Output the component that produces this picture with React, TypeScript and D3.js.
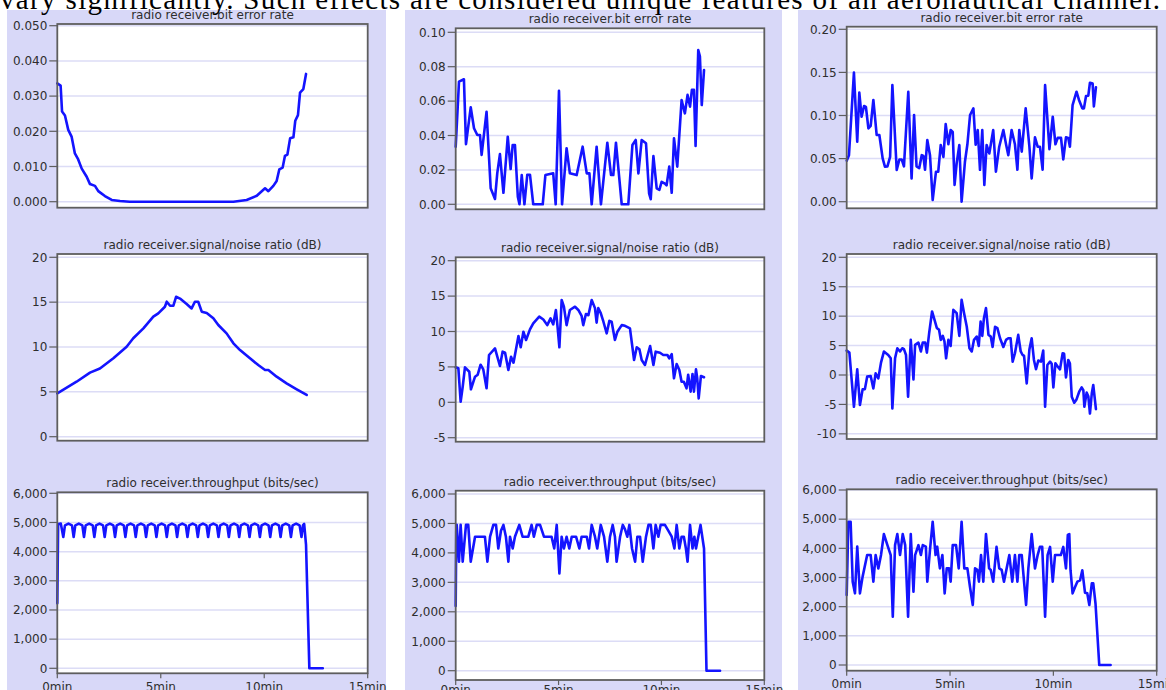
import React from "react";
import * as d3 from "d3";

const W = 1166;
const H = 690;

const headline =
  "vary significantly. Such effects are considered unique features of an aeronautical channel.";

const titleBer = "radio receiver.bit error rate";
const titleSnr = "radio receiver.signal/noise ratio (dB)";
const titleTp = "radio receiver.throughput (bits/sec)";

const timeTicks = [0, 5, 10, 15];
const berTicksA = [0, 0.01, 0.02, 0.03, 0.04, 0.05];
const berTicksB = [0, 0.02, 0.04, 0.06, 0.08, 0.1];
const berTicksC = [0, 0.05, 0.1, 0.15, 0.2];
const snrTicksA = [0, 5, 10, 15, 20];
const snrTicksB = [-5, 0, 5, 10, 15, 20];
const snrTicksC = [-10, -5, 0, 5, 10, 15, 20];
const tpTicks = [0, 1000, 2000, 3000, 4000, 5000, 6000];

// [minutes, value]
const berA: [number, number][] = [
  [0, 0.0336], [0.16, 0.033], [0.23, 0.0256], [0.37, 0.0245], [0.53, 0.0204], [0.69, 0.0185],
  [0.85, 0.0137], [1.01, 0.012], [1.18, 0.0094], [1.42, 0.0071], [1.58, 0.005], [1.82, 0.0045],
  [1.98, 0.003], [2.3, 0.0016], [2.63, 0.0005], [3.03, 0.0002], [3.5, 0], [8.51, 0],
  [9.15, 0.0005], [9.64, 0.0017], [10.04, 0.0038], [10.2, 0.003], [10.44, 0.0045], [10.6, 0.0059],
  [10.73, 0.0092], [10.89, 0.0097], [11.0, 0.013], [11.12, 0.0134], [11.25, 0.018], [11.41, 0.0183],
  [11.5, 0.023], [11.63, 0.0246], [11.73, 0.031], [11.89, 0.032], [12.02, 0.0363],
];

const snrA: [number, number][] = [
  [0, 4.84], [0.93, 6.13], [1.58, 7.14], [2.06, 7.6], [2.71, 8.74], [3.35, 10.03], [3.67, 10.97],
  [4.16, 12.08], [4.64, 13.38], [4.88, 13.75], [5.2, 14.49], [5.29, 15.05], [5.45, 14.6],
  [5.61, 14.6], [5.74, 15.6], [5.93, 15.4], [6.25, 14.8], [6.49, 14.3], [6.65, 15.05],
  [6.81, 15.05], [6.98, 13.94], [7.22, 13.8], [7.54, 13.2], [7.78, 12.45], [8.18, 11.52],
  [8.51, 10.41], [8.83, 9.66], [9.31, 8.74], [9.71, 7.99], [10.04, 7.44], [10.2, 7.44],
  [10.6, 6.69], [11.08, 5.95], [11.57, 5.28], [12.05, 4.65],
];

const tpA: [number, number][] = [
  [0, 2230], [0.04, 4950], [0.17, 4960],
  [0.29, 4500], [0.37, 4900], [0.54, 4960], [0.71, 4900],
  [0.79, 4500], [0.87, 4900], [1.04, 4960], [1.21, 4900],
  [1.29, 4500], [1.37, 4900], [1.54, 4960], [1.71, 4900],
  [1.79, 4500], [1.87, 4900], [2.04, 4960], [2.21, 4900],
  [2.29, 4500], [2.37, 4900], [2.54, 4960], [2.71, 4900],
  [2.79, 4500], [2.87, 4900], [3.04, 4960], [3.21, 4900],
  [3.29, 4500], [3.37, 4900], [3.54, 4960], [3.71, 4900],
  [3.79, 4500], [3.87, 4900], [4.04, 4960], [4.21, 4900],
  [4.29, 4500], [4.37, 4900], [4.54, 4960], [4.71, 4900],
  [4.79, 4500], [4.87, 4900], [5.04, 4960], [5.21, 4900],
  [5.29, 4500], [5.37, 4900], [5.54, 4960], [5.71, 4900],
  [5.79, 4500], [5.87, 4900], [6.04, 4960], [6.21, 4900],
  [6.29, 4500], [6.37, 4900], [6.54, 4960], [6.71, 4900],
  [6.79, 4500], [6.87, 4900], [7.04, 4960], [7.21, 4900],
  [7.29, 4500], [7.37, 4900], [7.54, 4960], [7.71, 4900],
  [7.79, 4500], [7.87, 4900], [8.04, 4960], [8.21, 4900],
  [8.29, 4500], [8.37, 4900], [8.54, 4960], [8.71, 4900],
  [8.79, 4500], [8.87, 4900], [9.04, 4960], [9.21, 4900],
  [9.29, 4500], [9.37, 4900], [9.54, 4960], [9.71, 4900],
  [9.79, 4500], [9.87, 4900], [10.04, 4960], [10.21, 4900],
  [10.29, 4500], [10.37, 4900], [10.54, 4960], [10.71, 4900],
  [10.79, 4500], [10.87, 4900], [11.04, 4960], [11.21, 4900],
  [11.29, 4500], [11.37, 4900], [11.54, 4960], [11.71, 4900],
  [11.8, 4500], [11.87, 4900], [11.93, 4950], [12.02, 4230],
  [12.18, 0], [12.83, 0],
];

const berB: [number, number][] = [
  [0, 0.0335], [0.16, 0.0713], [0.4, 0.0727], [0.5, 0.035], [0.73, 0.0564], [0.89, 0.0442],
  [1.05, 0.0403], [1.18, 0.0403], [1.26, 0.0287], [1.5, 0.0538], [1.7, 0.0093], [1.91, 0.0031],
  [2.02, 0.018], [2.15, 0.0292], [2.32, 0.0067], [2.53, 0.0393], [2.67, 0.0205], [2.77, 0.0345],
  [2.88, 0.0345], [3.02, 0.0044], [3.1, 0], [3.21, 0.017], [3.34, 0], [3.48, 0.0172],
  [3.61, 0.0172], [3.77, 0], [4.23, 0], [4.36, 0.017], [4.74, 0.018], [4.86, 0], [5.02, 0.066],
  [5.17, 0], [5.39, 0.0326], [5.55, 0.018], [5.88, 0.017], [6.17, 0.0335], [6.37, 0.018],
  [6.5, 0.018], [6.61, 0], [6.85, 0.0335], [7.06, 0], [7.37, 0.0358], [7.55, 0.017], [7.66, 0.017],
  [7.79, 0.0358], [8.07, 0], [8.39, 0], [8.59, 0.0345], [8.75, 0.0374], [8.88, 0.018],
  [9.04, 0.0374], [9.25, 0.0355], [9.4, 0.0064], [9.48, 0.003], [9.61, 0.028], [9.77, 0.0093],
  [9.9, 0.0084], [10.01, 0.0131], [10.17, 0.012], [10.25, 0.011], [10.38, 0.0219], [10.5, 0.0067],
  [10.61, 0.0384], [10.77, 0.0219], [10.98, 0.0606], [11.14, 0.0529], [11.27, 0.0636],
  [11.39, 0.0568], [11.48, 0.0665], [11.58, 0.0665], [11.66, 0.0339], [11.79, 0.0897],
  [11.87, 0.086], [11.96, 0.0577], [12.07, 0.078],
];

const snrB: [number, number][] = [
  [0, 4.94], [0.13, 4.8], [0.24, 0.08], [0.34, 2.2], [0.45, 4.94], [0.66, 4.32], [0.74, 1.84],
  [0.94, 3.62], [1.07, 3.9], [1.21, 5.31], [1.34, 4.65], [1.5, 1.98], [1.62, 6.68], [1.91, 7.62],
  [2.15, 5.13], [2.28, 7.15], [2.4, 7.0], [2.56, 4.56], [2.69, 6.44], [2.81, 5.6], [3.05, 9.36],
  [3.16, 7.77], [3.29, 9.97], [3.42, 8.8], [3.61, 10.3], [3.77, 11.16], [4.06, 12.1], [4.26, 11.7],
  [4.45, 10.9], [4.61, 11.86], [4.74, 11.0], [4.87, 13.04], [4.95, 10.68], [5.04, 7.77],
  [5.15, 14.45], [5.26, 13.5], [5.39, 10.9], [5.55, 13.04], [5.8, 13.5], [5.96, 13.04],
  [6.12, 12.19], [6.2, 10.9], [6.33, 12.47], [6.45, 12.3], [6.61, 14.45], [6.77, 13.3],
  [6.85, 11.24], [6.93, 13.3], [7.05, 12.6], [7.18, 11.38], [7.34, 9.74], [7.47, 11.5],
  [7.58, 11.38], [7.74, 8.8], [7.86, 9.97], [8.07, 10.9], [8.23, 10.8], [8.47, 10.45],
  [8.67, 5.97], [8.8, 7.77], [8.93, 7.5], [9.04, 5.97], [9.2, 5.27], [9.45, 7.95], [9.61, 5.27],
  [9.72, 7.15], [9.93, 7.0], [10.09, 6.68], [10.29, 6.68], [10.38, 6.21], [10.5, 6.8],
  [10.61, 3.39], [10.74, 5.41], [10.87, 4.56], [10.98, 2.91], [11.09, 2.91], [11.22, 1.98],
  [11.3, 3.9], [11.42, 1.5], [11.51, 4.0], [11.58, 1.5], [11.68, 4.65], [11.74, 3.39],
  [11.81, 0.56], [11.92, 3.72], [12.07, 3.53],
];

const tpB: [number, number][] = [
  [0, 2200], [0.03, 4950], [0.05, 4950], [0.16, 3700], [0.24, 4950], [0.34, 3700], [0.5, 4950],
  [0.61, 4950], [0.73, 3700], [0.94, 4550], [1.42, 4550], [1.54, 3700], [1.67, 4550],
  [1.83, 4950], [1.96, 4950], [2.07, 4150], [2.2, 4750], [2.32, 4950], [2.44, 4550],
  [2.56, 3700], [2.64, 4550], [2.77, 4150], [2.88, 4550], [3.09, 4950], [3.25, 4550],
  [3.53, 4550], [3.69, 4950], [3.8, 4550], [3.94, 4950], [4.1, 4950], [4.29, 4550], [4.66, 4550],
  [4.79, 4150], [4.91, 4950], [5.04, 3300], [5.15, 4550], [5.26, 4150], [5.39, 4550],
  [5.52, 4150], [5.64, 4550], [5.85, 4550], [6.01, 4150], [6.12, 4550], [6.37, 4550],
  [6.48, 4150], [6.61, 4950], [6.77, 4550], [6.88, 4150], [7.05, 4950], [7.21, 4550],
  [7.37, 3700], [7.5, 4550], [7.63, 4950], [7.74, 4550], [7.82, 3700], [7.99, 4550],
  [8.12, 4950], [8.23, 4800], [8.34, 4550], [8.44, 4950], [8.57, 4150], [8.72, 3700],
  [8.83, 4550], [8.96, 4550], [9.09, 3700], [9.25, 4550], [9.37, 4950], [9.48, 4950],
  [9.61, 4150], [9.72, 4950], [9.85, 4550], [9.96, 4950], [10.17, 4950], [10.34, 4750],
  [10.5, 4550], [10.63, 4150], [10.74, 4950], [10.87, 4150], [10.98, 4550], [11.09, 4550],
  [11.19, 4150], [11.27, 3700], [11.39, 4950], [11.51, 4150], [11.6, 4550], [11.68, 4150],
  [11.79, 4550], [11.9, 4950], [12.07, 4150], [12.19, 0], [12.85, 0],
];

const berC: [number, number][] = [
  [0, 0.0476], [0.11, 0.054], [0.35, 0.1497], [0.51, 0.0696], [0.61, 0.1265], [0.72, 0.0986],
  [0.84, 0.111], [0.93, 0.11], [1.05, 0.085], [1.16, 0.088], [1.29, 0.118], [1.45, 0.0774],
  [1.58, 0.0774], [1.74, 0.0503], [1.85, 0.0406], [1.97, 0.041], [2.1, 0.052], [2.21, 0.1354],
  [2.42, 0.0368], [2.55, 0.049], [2.66, 0.049], [2.77, 0.041], [2.98, 0.1276], [3.14, 0.027],
  [3.26, 0.1006], [3.38, 0.041], [3.51, 0.039], [3.63, 0.054], [3.71, 0.053], [3.79, 0.037],
  [3.9, 0.0716], [4.03, 0.054], [4.16, 0.002], [4.32, 0.0348], [4.43, 0.0348], [4.55, 0.0658],
  [4.68, 0.052], [4.79, 0.09], [4.92, 0.0666], [5.03, 0.0832], [5.13, 0.081], [5.22, 0.0194],
  [5.32, 0.0445], [5.45, 0.0658], [5.56, 0], [5.72, 0.046], [5.84, 0.0666], [5.97, 0.1006],
  [6.13, 0.1083], [6.24, 0.0661], [6.34, 0.0832], [6.45, 0.037], [6.56, 0.0832], [6.66, 0.0194],
  [6.77, 0.0658], [6.9, 0.056], [7.09, 0.0832], [7.22, 0.0348], [7.38, 0.0638], [7.58, 0.0832],
  [7.71, 0.0666], [7.82, 0.054], [7.98, 0.0832], [8.14, 0.0666], [8.26, 0.037], [8.35, 0.0832],
  [8.47, 0.058], [8.66, 0.1083], [8.84, 0.0638], [8.95, 0.027], [9.11, 0.0747], [9.24, 0.0638],
  [9.35, 0.0638], [9.48, 0.037], [9.6, 0.1354], [9.81, 0.061], [9.97, 0.0986], [10.1, 0.0666],
  [10.21, 0.074], [10.37, 0.074], [10.48, 0.049], [10.61, 0.0747], [10.72, 0.074],
  [10.8, 0.0638], [10.93, 0.112], [11.12, 0.1276], [11.24, 0.118], [11.4, 0.1083],
  [11.48, 0.1083], [11.58, 0.1226], [11.69, 0.123], [11.77, 0.138], [11.9, 0.137],
  [11.96, 0.1106], [12.06, 0.1327],
];

const snrC: [number, number][] = [
  [0, 4.14], [0.13, 3.8], [0.35, -5.4], [0.51, 0.97], [0.64, -5.1], [0.77, -2.44], [0.88, -2.4],
  [0.99, -0.28], [1.16, -0.17], [1.29, -2.27], [1.4, 0.28], [1.53, -0.57], [1.66, 2.1],
  [1.8, 3.98], [2.01, 3.4], [2.13, 2.84], [2.21, -5.7], [2.34, 2.84], [2.45, 4.55], [2.58, 4.0],
  [2.69, 4.55], [2.77, 4.4], [2.87, 3.4], [2.97, -3.7], [3.1, 5.97], [3.23, -0.74], [3.31, 5.11],
  [3.47, 5.5], [3.59, 4.0], [3.68, 5.5], [3.8, 5.5], [3.88, 3.8], [3.99, 7.1], [4.13, 10.8],
  [4.25, 9.37], [4.36, 8.0], [4.47, 7.67], [4.55, 5.97], [4.65, 6.65], [4.73, 5.7], [4.81, 2.84],
  [4.92, 5.97], [5.03, 4.94], [5.16, 11.08], [5.32, 10.5], [5.45, 6.65], [5.56, 12.78],
  [5.68, 10.5], [5.81, 8.2], [5.94, 4.55], [6.05, 4.0], [6.16, 5.97], [6.29, 6.54], [6.39, 4.94],
  [6.48, 9.08], [6.56, 6.65], [6.64, 9.66], [6.74, 11.37], [6.86, 6.82], [6.97, 6.54],
  [7.06, 4.77], [7.18, 8.2], [7.29, 7.96], [7.42, 6.25], [7.58, 4.77], [7.71, 5.97], [7.82, 6.25],
  [7.93, 6.25], [8.03, 2.27], [8.14, 3.7], [8.3, 6.82], [8.42, 4.0], [8.51, 3.4], [8.58, 3.3],
  [8.71, -1.42], [8.84, 4.33], [8.95, 6.25], [9.06, 2.56], [9.16, 0.97], [9.27, 2.45],
  [9.4, 2.27], [9.51, 4.14], [9.6, -5.4], [9.71, 1.7], [9.84, 2.27], [9.92, 1.9], [10.0, -2.1],
  [10.1, 2.0], [10.21, 1.42], [10.32, 0.97], [10.45, 3.7], [10.52, 3.6], [10.61, -0.4],
  [10.72, 2.56], [10.8, 2.0], [10.89, -3.7], [11.01, -4.72], [11.12, -4.15], [11.25, -2.84],
  [11.37, -2.1], [11.45, -2.56], [11.5, -5.4], [11.61, -3.0], [11.69, -3.6], [11.77, -6.55],
  [11.86, -3.1], [11.93, -1.7], [12.06, -5.8],
];

const tpC: [number, number][] = [
  [0, 2400], [0.08, 4913], [0.19, 4913], [0.29, 2857], [0.4, 2457], [0.51, 4057], [0.64, 2457],
  [0.77, 3030], [0.99, 3770], [1.16, 3770], [1.29, 2857], [1.4, 3770], [1.53, 3313], [1.66, 3770],
  [1.8, 4490], [1.97, 4110], [2.13, 3770], [2.23, 1657], [2.34, 4110], [2.45, 4490], [2.58, 3770],
  [2.71, 4490], [2.83, 4110], [2.97, 1657], [3.1, 4490], [3.23, 2514], [3.31, 3770], [3.47, 4110],
  [3.59, 3770], [3.68, 4110], [3.83, 4057], [3.9, 2857], [4.03, 3950], [4.16, 4913], [4.3, 3770],
  [4.38, 4057], [4.51, 3313], [4.63, 3770], [4.74, 2457], [4.84, 3313], [4.95, 3313],
  [5.03, 2857], [5.13, 4110], [5.29, 4110], [5.42, 3313], [5.56, 4913], [5.69, 3313],
  [5.84, 3313], [5.97, 2657], [6.1, 2057], [6.21, 3313], [6.32, 3260], [6.4, 2857], [6.5, 3770],
  [6.61, 2857], [6.74, 4490], [6.89, 3313], [6.97, 3260], [7.09, 2857], [7.25, 4050],
  [7.38, 3313], [7.5, 3260], [7.61, 2857], [7.74, 3313], [7.87, 3770], [8.01, 2857], [8.14, 3770],
  [8.26, 2857], [8.35, 3770], [8.47, 3770], [8.68, 2057], [8.79, 3313], [8.95, 4490],
  [9.11, 3313], [9.24, 3770], [9.35, 4050], [9.46, 4050], [9.6, 1657], [9.72, 3770], [9.84, 4050],
  [9.97, 2857], [10.08, 3770], [10.24, 3770], [10.36, 3770], [10.48, 4050], [10.61, 3313],
  [10.7, 4460], [10.77, 4490], [10.83, 3250], [10.93, 2457], [11.04, 2657], [11.16, 2857],
  [11.29, 2900], [11.4, 3250], [11.53, 2480], [11.64, 2457], [11.74, 2057], [11.86, 2800],
  [11.93, 2800], [12.04, 2100], [12.22, 0], [12.77, 0],
];

type Chart = {
  title: string;
  data: [number, number][];
  ticks: number[];
  fmt: (v: number) => string;
  box: [number, number, number, number]; // left, top, right, bottom
  ref: [number, number, number, number]; // value0, y0, value1, y1
  xLabelY?: number;
};

const hyphen = (f: (v: number) => string) => (v: number) => f(v).replace("\u2212", "-");
const f3 = hyphen(d3.format(".3f"));
const f2 = hyphen(d3.format(".2f"));
const fi = hyphen(d3.format("d"));
const fc = hyphen(d3.format(",d"));

const columns = [
  { x0: 7, x1: 386 },
  { x0: 405, x1: 782 },
  { x0: 798, x1: 1166 },
];

const charts: Chart[] = [
  { title: titleBer, data: berA, ticks: berTicksA, fmt: f3, box: [57.3, 24, 367.7, 207.7], ref: [0, 201.7, 0.05, 25.7] },
  { title: titleSnr, data: snrA, ticks: snrTicksA, fmt: fi, box: [57.3, 254, 367.7, 440.7], ref: [0, 436.7, 20, 257.3] },
  { title: titleTp, data: tpA, ticks: tpTicks, fmt: fc, box: [57.3, 492.3, 367.7, 673.3], ref: [0, 668.3, 6000, 493.3], xLabelY: 691 },
  { title: titleBer, data: berB, ticks: berTicksB, fmt: f2, box: [455.7, 28.3, 764.3, 209.3], ref: [0, 204.3, 0.1, 32.3] },
  { title: titleSnr, data: snrB, ticks: snrTicksB, fmt: fi, box: [455.7, 257.3, 764.3, 441.7], ref: [0, 402.3, 20, 260.7] },
  { title: titleTp, data: tpB, ticks: tpTicks, fmt: fc, box: [455.7, 490.7, 764.3, 680], ref: [0, 670.7, 6000, 494], xLabelY: 694 },
  { title: titleBer, data: berC, ticks: berTicksC, fmt: f2, box: [846.7, 26.7, 1156.7, 208.3], ref: [0, 201.7, 0.2, 29.3] },
  { title: titleSnr, data: snrC, ticks: snrTicksC, fmt: fi, box: [846.7, 254, 1156.7, 439], ref: [0, 375, 20, 257.3] },
  { title: titleTp, data: tpC, ticks: tpTicks, fmt: fc, box: [846.7, 489.3, 1156.7, 670.7], ref: [0, 665, 6000, 490], xLabelY: 688 },
];

const LAV = "#d8d8f8";
const GRID = "#dcdcf6";
const FRAME = "#5e5e5e";
const LINE = "#1414ff";
const TXT = "#2e2e2e";
const SANS = "'DejaVu Sans', Verdana, sans-serif";

function ChartView({ c }: { c: Chart }) {
  const [l, t, r, b] = c.box;
  const x = d3.scaleLinear().domain([0, 15]).range([l, r]);
  const y = d3.scaleLinear().domain([c.ref[0], c.ref[2]]).range([c.ref[1], c.ref[3]]);
  const line = d3
    .line<[number, number]>()
    .x((d) => x(d[0]))
    .y((d) => y(d[1]));
  return (
    <g>
      <rect x={l} y={t} width={r - l} height={b - t} fill="#ffffff" />
      {c.ticks.map((v) => (
        <line key={"g" + v} x1={l} x2={r} y1={y(v)} y2={y(v)} stroke={GRID} strokeWidth={1.5} />
      ))}
      <path d={line(c.data) || ""} fill="none" stroke={LINE} strokeWidth={2.6} strokeLinejoin="round" strokeLinecap="round" />
      <rect x={l} y={t} width={r - l} height={b - t} fill="none" stroke={FRAME} strokeWidth={1.8} />
      {c.ticks.map((v) => (
        <g key={"t" + v}>
          <line x1={l - 8} x2={l} y1={y(v)} y2={y(v)} stroke={FRAME} strokeWidth={1.2} />
          <text x={l - 10} y={y(v)} dy="0.36em" textAnchor="end" fontSize={12} fontFamily={SANS} fill={TXT}>
            {c.fmt(v)}
          </text>
        </g>
      ))}
      <text x={(l + r) / 2} y={t - 5} textAnchor="middle" fontSize={12} fontFamily={SANS} fill={TXT}>
        {c.title}
      </text>
      {c.xLabelY !== undefined &&
        timeTicks.map((m) => (
          <g key={"x" + m}>
            <line x1={x(m)} x2={x(m)} y1={b} y2={b + 5} stroke={FRAME} strokeWidth={1.2} />
            <text x={x(m)} y={c.xLabelY} textAnchor="middle" fontSize={12} fontFamily={SANS} fill={TXT}>
              {m + "min"}
            </text>
          </g>
        ))}
    </g>
  );
}

export default function App() {
  return (
    <svg
      width={W}
      height={H}
      viewBox={`0 0 ${W} ${H}`}
      style={{ position: "absolute", left: 0, top: 0, display: "block", background: "#ffffff" }}
    >
      {columns.map((col, i) => (
        <rect key={i} x={col.x0} y={10} width={col.x1 - col.x0} height={H - 10} fill={LAV} />
      ))}
      {charts.map((c, i) => (
        <ChartView key={i} c={c} />
      ))}
      <text
        x={0}
        y={9}
        fontSize={29}
        fontFamily="'Liberation Serif', 'Times New Roman', serif"
        fill="#000"
        textLength={1160}
        lengthAdjust="spacing"
      >
        {headline}
      </text>
    </svg>
  );
}
